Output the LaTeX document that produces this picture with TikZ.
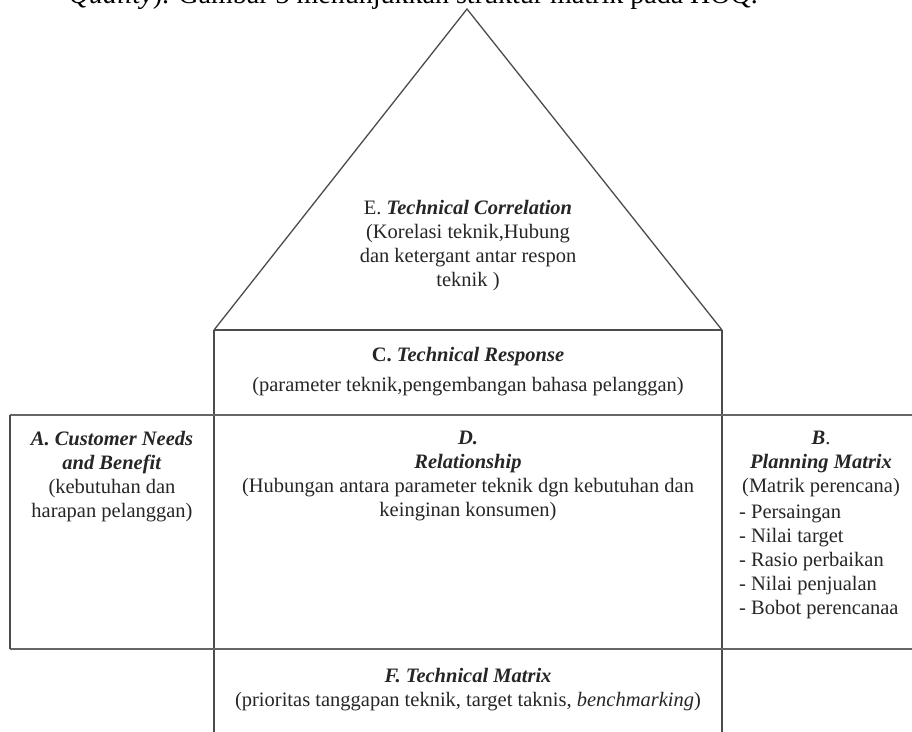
\documentclass[tikz,border=0pt]{standalone}
\usepackage{fontspec}
\setmainfont{Liberation Serif}
\usetikzlibrary{positioning}

\begin{document}
\begin{tikzpicture}[x=1pt, y=-1pt]

    \tikzset{
        frame/.style = {draw=black!70, line width=1.3pt},
        rule/.style = {draw=black!60, line width=2.4pt},
        label/.style = {align=center, text=black!85, inner sep=0pt, font=\fontsize{20.5}{24}\selectfont},
        listing/.style = {label, align=left},
        caption/.style = {inner sep=0pt, text=black, font=\fontsize{28}{32}\selectfont}
    }

    \clip (0,0) rectangle (912,731);
    \fill[white] (0,0) rectangle (912,731);

    % corners of the house
    \coordinate (apex) at (467,9);
    \coordinate (roofl) at (214,330);
    \coordinate (roofr) at (722,330);
    \coordinate (midl) at (10,415);
    \coordinate (midr) at (930,415);
    \coordinate (lowl) at (10,649);
    \coordinate (lowr) at (930,649);
    \coordinate (footl) at (214,740);
    \coordinate (footr) at (722,740);

    \node (intro) [caption, anchor=base east] at (758,3) {\textit{Quality}). Gambar 3 menunjukkan struktur matrik pada HOQ.};

    \draw [frame] (roofl) -- (apex) -- (roofr);
    \draw [frame] (roofl) -- (roofr);
    \draw [frame] (roofl) -- (footl);
    \draw [frame] (roofr) -- (footr);
    \draw [rule] (midl) -- (midr);
    \draw [rule] (lowl) -- (lowr);
    \draw [frame] (midl) -- (lowl);

    \node (corr) [label, anchor=north] at (468,200) {E. \textbf{\textit{Technical Correlation}}\\(Korelasi teknik,Hubung\\dan ketergant antar respon\\teknik )};
    \node (resp) [label, anchor=north] at (468,347) {\textbf{C.} \textbf{\textit{Technical Response}}\\[6pt](parameter teknik,pengembangan bahasa pelanggan)};
    \node (needs) [label, anchor=north] at (112,431) {\textbf{\textit{A. Customer Needs}}\\\textbf{\textit{and Benefit}}\\(kebutuhan dan\\harapan pelanggan)};
    \node (rel) [label, anchor=north] at (468,431) {\textbf{\textit{D.}}\\\textbf{\textit{Relationship}}\\(Hubungan antara parameter teknik dgn kebutuhan dan\\keinginan konsumen)};
    \node (plan) [label, anchor=north] at (821,431) {\textbf{\textit{B}}.\\\textbf{\textit{Planning Matrix}}\\(Matrik perencana)};
    \node (items) [listing, below=8pt of plan.south west, anchor=north west, xshift=-3pt] {- Persaingan\\- Nilai target\\- Rasio perbaikan\\- Nilai penjualan\\- Bobot perencanaa};
    \node (tech) [label, anchor=north] at (468,668) {\textbf{\textit{F. Technical Matrix}}\\(prioritas tanggapan teknik, target taknis, \textit{benchmarking})};

\end{tikzpicture}
\end{document}
